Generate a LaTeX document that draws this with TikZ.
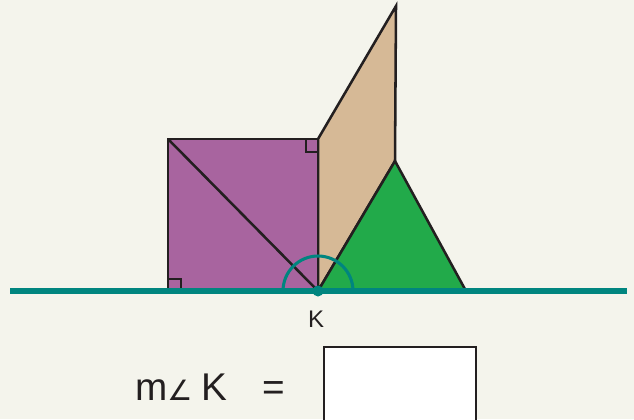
\documentclass[tikz,border=0pt]{standalone}
\usepackage{fontspec}
\usetikzlibrary{calc}
\setmainfont{Liberation Sans}
\newfontfamily\symfont{DejaVu Sans}
\definecolor{bg}{HTML}{F4F4EC}
\definecolor{sqpurple}{HTML}{A8649F}
\definecolor{tanc}{HTML}{D6B996}
\definecolor{grn}{HTML}{22AA4A}
\definecolor{tealc}{HTML}{00857F}
\definecolor{ink}{HTML}{231F20}
\begin{document}
\begin{tikzpicture}[x=0.75pt,y=-0.75pt,
  solid/.style={draw=ink,line width=1.9pt,line join=miter},
  rtmark/.style={draw=ink,line width=1.5pt},
  tealline/.style={draw=tealc,line width=3.9pt},
  lbl/.style={text=ink,inner sep=0pt,anchor=base}]
\fill[bg] (0,0) rectangle (634,419);
\useasboundingbox (0,0) rectangle (634,419);
% points
\coordinate (K) at (318,291);
\coordinate (A) at (168,139);
\coordinate (B) at (318,139);
\coordinate (S) at (168,291);
\coordinate (P) at (396,6);
\coordinate (Q) at (395,161);
\coordinate (R) at (466,291);
\coordinate (L1) at (10,291);
\coordinate (L2) at (627,291);
% parallelogram
\filldraw[solid,fill=tanc] (B) -- (P) -- (Q) -- (K) -- cycle;
% triangle
\filldraw[solid,fill=grn] (K) -- (Q) -- (R) -- cycle;
% square
\filldraw[solid,fill=sqpurple] (A) -- (B) -- (K) -- (S) -- cycle;
\draw[solid] (A) -- (K);
% right-angle marks
\draw[rtmark] ($(B)+(-12.5,0)$) -- ++(0,12.5) -- ++(12.5,0);
\draw[rtmark] ($(S)+(12.5,0)$) -- ++(0,-12.5) -- ++(-12.5,0);
% baseline
\draw[tealline] (L1) -- (L2);
% angle arc
\draw[tealc,line width=2.3pt] ($(K)+(35,0)$) arc[start angle=0,end angle=-180,radius=35];
\fill[tealc] (K) circle[radius=5.5];
% labels
\node[lbl,font=\fontsize{18pt}{20pt}\selectfont] (klab) at (316,327) {K};
\node[lbl,anchor=base west,font=\fontsize{29pt}{34pt}\selectfont] (mk) at (135,400) {m{\symfont\fontsize{21pt}{24pt}\selectfont ∠}\hspace{7pt}K};
\node[lbl,anchor=base west,font=\fontsize{29pt}{34pt}\selectfont] (eq) at (262,400) {=};
% answer box
\filldraw[draw=ink,fill=white,line width=2.2pt] (324,347) rectangle (476,430);
\end{tikzpicture}
\end{document}
